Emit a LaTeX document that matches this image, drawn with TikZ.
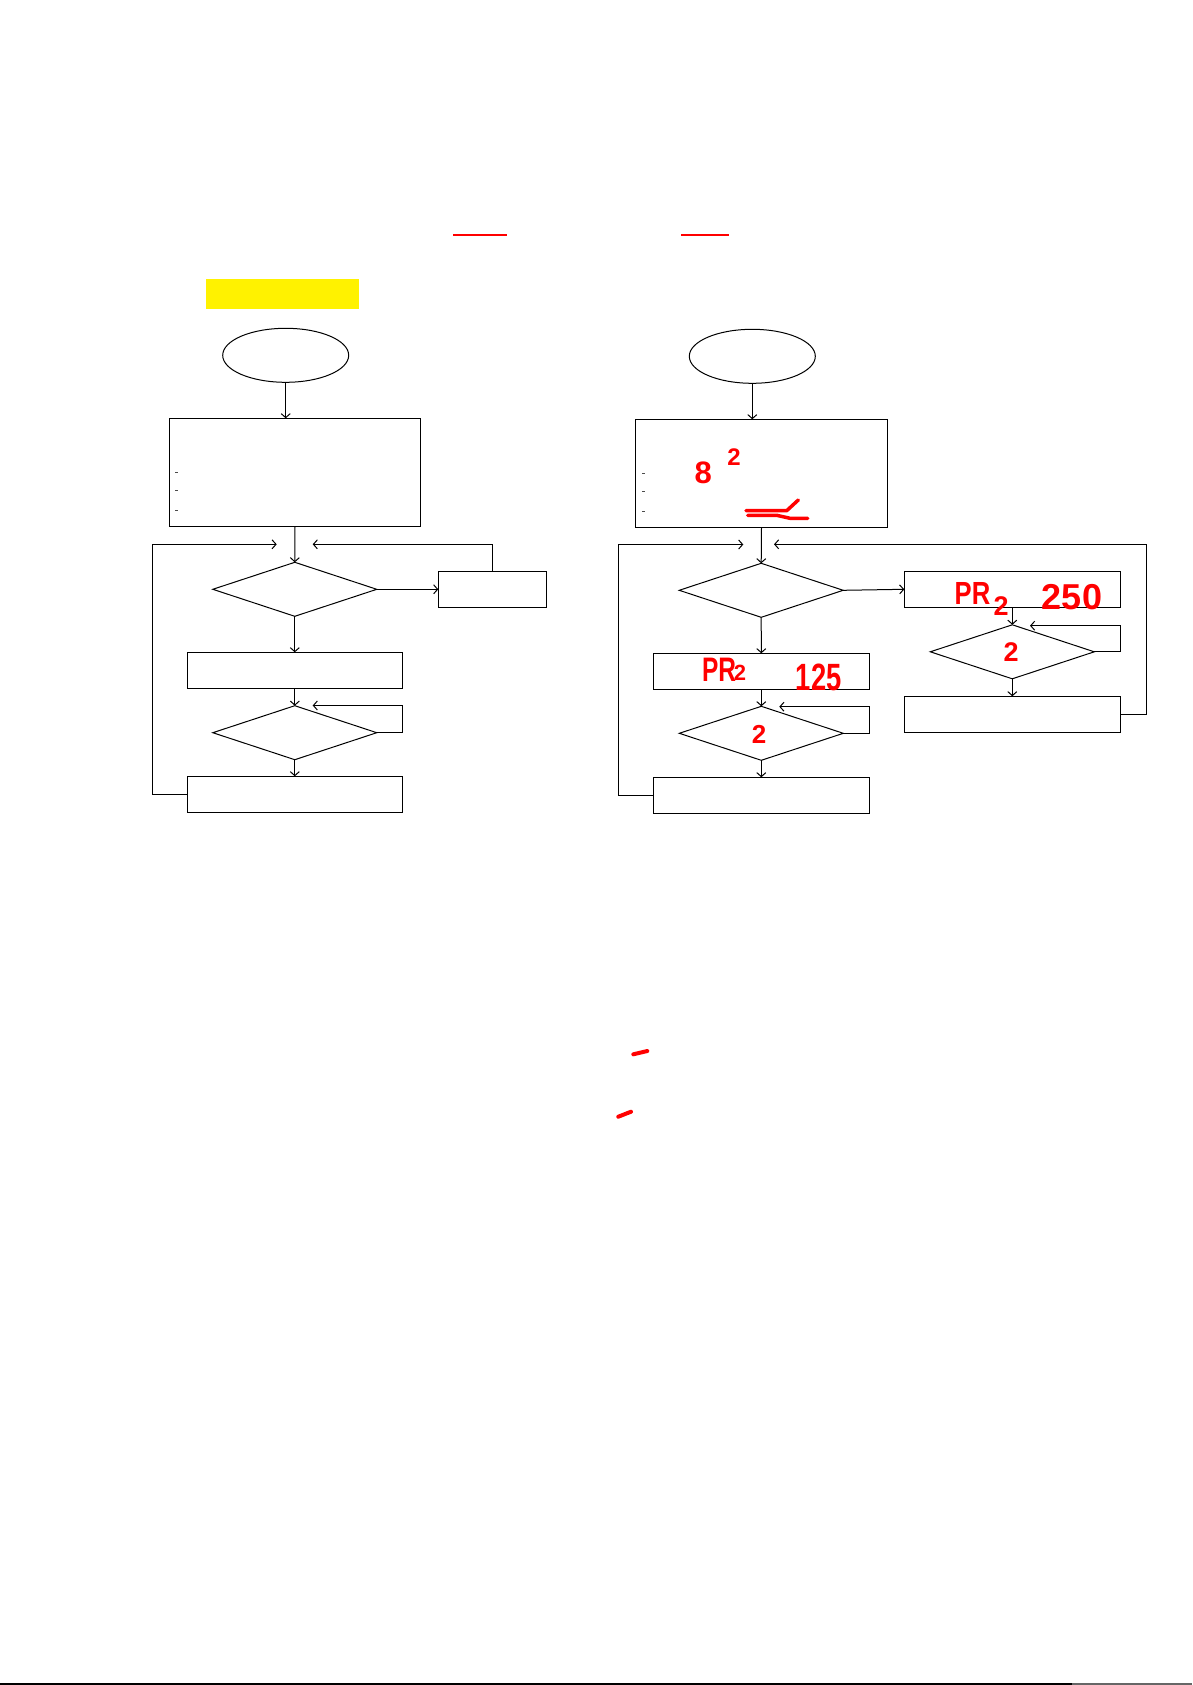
\documentclass[tikz,border=0pt]{standalone}
\usepackage{graphicx}
\usepackage{fontspec}
\setmainfont{Liberation Sans}
\usetikzlibrary{shapes.geometric,arrows.meta}
\begin{document}
\begin{tikzpicture}[x=1pt,y=-1pt,
  flow/.style={draw=black, line width=1pt, inner sep=0pt, outer sep=0pt},
  term/.style={flow, ellipse, minimum width=126pt, minimum height=54pt},
  proc/.style={flow, rectangle},
  dec/.style={flow, diamond, minimum width=164pt, minimum height=54pt},
  conn/.style={draw=black, line width=1pt, -{Straight Barb[length=4pt,width=9pt,line width=1pt]}},
  ink/.style={red, inner sep=0pt, font=\fontsize{#1}{#1}\selectfont\bfseries},
  stroke/.style={draw=red, line width=3.5pt, line cap=round, line join=round},
  bulletmark/.style={draw=black!70, line width=1pt}
]
\useasboundingbox (0,0) rectangle (1192,1685);
\fill[white] (0,0) rectangle (1192,1685);

% header marks
\node[fill=yellow, minimum width=153pt, minimum height=30pt, inner sep=0pt] (tag) at (282.5,294) {};
\draw[red, line width=2pt] (453,234.7) -- (506.7,234.7);
\draw[red, line width=2pt] (681,234.7) -- (729,234.7);

% ---------------- left flowchart ----------------
\node[term] (Ls) at (285.7,355.3) {};
\node[proc, minimum width=251.4pt, minimum height=108pt] (Lb1) at (295,472.3) {};
\node[dec] (Ld1) at (294.8,589.3) {};
\node[proc, minimum width=108pt, minimum height=36pt] (Lside) at (492.3,589.3) {};
\node[proc, minimum width=215pt, minimum height=36pt] (Lb2) at (294.8,670.3) {};
\node[dec] (Ld2) at (294.8,732.7) {};
\node[proc, minimum width=215pt, minimum height=36pt] (Lb3) at (294.8,794.3) {};

\coordinate (LinL) at (276.7,544.3);
\coordinate (LinR) at (312.7,544.3);
\coordinate (LbackX) at (152.3,544.3);
\coordinate (Ld2in) at (312.7,705.5);

\draw[conn] (Ls.south) -- (Ls.south |- Lb1.north);
\draw[conn] (Lb1.south) -- (Ld1.north);
\draw[conn] (Lb3.west) -| (LbackX) -- (LinL);
\draw[conn] (Lside.north) |- (LinR);
\draw[conn] (Ld1.east) -- (Lside.west);
\draw[conn] (Ld1.south) -- (Lb2.north);
\draw[conn] (Lb2.south) -- (Ld2.north);
\draw[conn] (Ld2.east) -- (Ld2.east -| Lb2.east) |- (Ld2in);
\draw[conn] (Ld2.south) -- (Lb3.north);

\draw[bulletmark] (175.3,472) -- (178.3,472);
\draw[bulletmark] (175.3,490.3) -- (178.3,490.3);
\draw[bulletmark] (175.3,510.7) -- (178.3,510.7);

% ---------------- right flowchart ----------------
\node[term] (Rs) at (752.3,356.3) {};
\node[proc, minimum width=252.4pt, minimum height=108pt] (Rb1) at (761.5,473.3) {};
\node[dec] (Rd1) at (761.2,590.3) {};
\node[proc, minimum width=216pt, minimum height=36pt] (Rside) at (1012.3,589.3) {};
\node[dec] (Rd3) at (1012.3,651.8) {};
\node[proc, minimum width=216pt, minimum height=36pt] (Rb4) at (1012.3,714.3) {};
\node[proc, minimum width=216pt, minimum height=36pt] (Rb2) at (761.3,671.3) {};
\node[dec] (Rd2) at (761.3,733.3) {};
\node[proc, minimum width=216pt, minimum height=36pt] (Rb3) at (761.3,795.3) {};

\coordinate (RinL) at (743.3,544.5);
\coordinate (RinR) at (774,544.3);
\coordinate (RbackX) at (618.5,544.5);
\coordinate (RfarX) at (1146.7,544.3);
\coordinate (Rd2in) at (779.3,706.7);
\coordinate (Rd3in) at (1030,625.7);

\draw[conn] (Rs.south) -- (Rs.south |- Rb1.north);
\draw[conn] (Rb1.south) -- (Rd1.north);
\draw[conn] (Rb3.west) -| (RbackX) -- (RinL);
\draw[conn] (Rb4.east) -| (RfarX) -- (RinR);
\draw[conn] (Rd1.east) -- (Rside.west);
\draw[conn] (Rside.south) -- (Rd3.north);
\draw[conn] (Rd3.east) -- (Rd3.east -| Rside.east) |- (Rd3in);
\draw[conn] (Rd3.south) -- (Rb4.north);
\draw[conn] (Rd1.south) -- (Rb2.north);
\draw[conn] (Rb2.south) -- (Rd2.north);
\draw[conn] (Rd2.east) -- (Rd2.east -| Rb2.east) |- (Rd2in);
\draw[conn] (Rd2.south) -- (Rb3.north);

\draw[bulletmark] (642,473.3) -- (645,473.3);
\draw[bulletmark] (642,491.3) -- (645,491.3);
\draw[bulletmark] (642,511.7) -- (645,511.7);

% ---------------- red handwriting ----------------
\node[ink=31] (h8) at (703.3,473.3) {8};
\node[ink=24] (h2) at (734,457.3) {2};
\draw[stroke] (746,510.7) -- (786.7,510.7) -- (798.3,500);
\draw[stroke] (747.7,515.3) -- (776.7,515.3) -- (790,518.3) -- (807.7,518.3);

\node[ink=34] (hPRa) at (719,670) {\scalebox{0.72}[1]{PR}};
\node[ink=22] (hPRa2) at (740,673) {2};
\node[ink=38] (h125) at (818.7,677) {\scalebox{0.72}[1]{125}};
\node[ink=26] (hd2) at (759,734.5) {2};

\node[ink=32] (hPRb) at (972.5,593) {\scalebox{0.8}[1]{PR}};
\node[ink=27] (hPRb2) at (1001,606) {2};
\node[ink=36] (h250) at (1072,597.5) {\scalebox{1}[1]{250}};
\node[ink=27] (hd3) at (1011,652.5) {2};

\draw[red, line width=4pt, line cap=round] (633.3,1054.3) -- (647.3,1051);
\draw[red, line width=4pt, line cap=round] (618.3,1116.7) -- (631,1111.7);

% bottom rule
\draw[black, line width=1.5pt] (0,1684) -- (1072,1684);
\draw[black!60, line width=1.5pt] (1072,1684) -- (1192,1684);
\end{tikzpicture}
\end{document}
